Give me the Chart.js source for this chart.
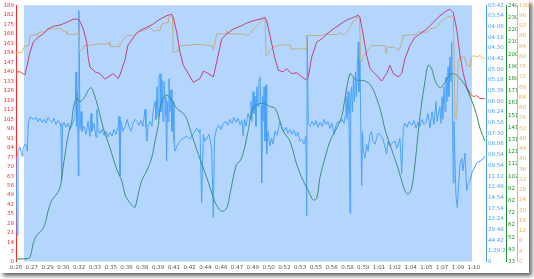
<!DOCTYPE html>
<html>
<head>
<meta charset="utf-8">
<script src="https://cdn.jsdelivr.net/npm/chart.js@4.4.0/dist/chart.umd.min.js"></script>
<style>
  html, body { margin: 0; padding: 0; background: #fff; }
  #frame { position: absolute; left: 0; top: 0; width: 529px; height: 273px; background: #fff; box-shadow: 3px 3px 4px rgba(0,0,0,0.6); }
  canvas { display: block; }
</style>
</head>
<body>
<div id="frame"><canvas id="chart" width="529" height="273"></canvas></div>
<script>
// x ticks: one label every ~1.52 min
const xLabels = ["0:26","0:27","0:29","0:30","0:32","0:33","0:35","0:36","0:38","0:39","0:41","0:42","0:44","0:46","0:47","0:49","0:50","0:52","0:53","0:55","0:56","0:58","0:59","1:01","1:02","1:04","1:05","1:07","1:09","1:10"];
const xTickStep = 1.517;
const xMax = 45.17;

// axis labels, bottom to top
const hrStep = 7, hrMax = 189;
const paceLabels = ["0","1:29:24","44:42","29:48","22:24","17:54","14:54","12:48","11:12","09:54","08:54","08:06","07:30","06:56","06:24","06:00","05:36","05:18","05:00","04:42","04:30","04:18","04:06","03:54","03:42"];
const paceStep = 0.6706; // km/h between pace labels
const greenLabels = ["33","43","52","62","72","82","92","102","112","121","131","141","151","161","171","180","190","200","210","220","230","240"];
const greenMin = 33, greenMax = 240;
const pctStep = 4, pctMax = 100;

// selected range (minutes)
const selection = [0.77, 43.82];

// [minutes, bpm]
const heartRate = [[0,139.9],[0.38,139.9],[0.86,137.7],[1.35,154.5],[1.66,161.8],[2.11,165.4],[2.59,167.8],[3.08,171.5],[3.56,173.4],[4.23,174.4],[4.87,176.4],[5.51,178.8],[5.99,178.8],[6.15,176.9],[6.47,171.5],[6.79,161.8],[6.95,149.6],[7.11,143.5],[7.59,139.9],[8.07,138.6],[8.55,134.5],[8.87,136.2],[9.35,138.6],[9.83,135.0],[9.99,137.7],[10.47,148.6],[10.76,159.6],[11.44,166.9],[11.92,170.5],[12.56,172.7],[13.17,175.1],[13.84,178.8],[14.48,181.3],[14.96,182.4],[15.12,180.0],[15.44,169.1],[15.76,154.5],[16.08,144.7],[16.56,138.6],[17.04,132.2],[17.68,135.0],[18.0,140.4],[18.33,139.3],[18.96,136.2],[19.29,147.2],[19.77,164.2],[20.25,167.8],[20.88,171.5],[21.53,173.4],[22.17,175.9],[22.8,177.6],[23.45,178.8],[23.93,180.0],[24.09,177.6],[24.41,166.7],[24.89,149.6],[25.21,141.1],[25.69,139.9],[26.01,142.3],[26.49,138.6],[26.98,139.3],[27.46,136.2],[27.94,133.8],[28.09,136.2],[28.42,150.8],[28.9,161.8],[29.38,164.2],[29.86,167.8],[30.49,171.5],[31.14,174.9],[31.78,178.2],[32.41,180.0],[32.9,181.7],[33.06,180.0],[33.38,166.7],[33.7,152.0],[34.02,142.3],[34.34,139.9],[34.66,137.4],[35.14,133.1],[35.62,138.6],[35.94,144.7],[36.26,138.6],[36.74,136.2],[37.07,138.6],[37.38,149.6],[37.86,159.4],[38.34,165.4],[38.82,167.8],[39.47,171.5],[40.1,176.4],[40.74,181.3],[41.39,184.9],[41.71,186.1],[42.02,183.7],[42.35,171.5],[42.67,152.0],[42.99,138.6],[43.31,128.9],[43.63,124.0],[43.95,121.6],[44.27,122.3],[44.59,120.4],[45.07,120.1]];

// [minutes, %]
const cadence = [[0,81.3],[0.58,81.7],[0.77,83.7],[1.06,84.3],[1.25,84.4],[1.35,88.3],[2.11,88.6],[2.21,89.5],[2.88,89.6],[2.98,90.7],[4.32,91.0],[4.42,90.1],[4.81,89.8],[4.9,88.7],[5.86,88.6],[5.99,89.5],[6.05,90.2],[6.1,82.1],[6.44,83.0],[6.53,84.3],[7.11,84.4],[7.78,84.8],[8.07,84.9],[8.84,84.9],[8.94,85.6],[9.03,84.3],[9.23,83.9],[9.9,83.9],[9.99,84.9],[10.64,88.2],[11.44,88.3],[11.6,89.5],[12.2,90.0],[12.88,91.4],[13.17,90.1],[13.84,90.1],[14.0,92.7],[14.61,93.3],[14.64,95.2],[14.96,95.9],[15.04,95.6],[15.12,81.7],[15.57,82.1],[15.6,83.6],[15.76,84.3],[16.72,84.4],[17.01,84.7],[17.68,84.7],[18.64,84.3],[18.93,84.0],[18.96,82.4],[19.29,88.8],[20.18,88.9],[20.25,90.1],[20.37,88.8],[22.1,88.8],[22.2,88.2],[22.49,88.8],[22.8,90.7],[23.13,92.0],[23.61,94.0],[23.93,95.2],[24.03,80.4],[24.22,81.0],[24.41,82.4],[24.73,83.7],[25.18,84.3],[25.37,84.5],[26.33,84.5],[26.43,83.0],[27.92,83.0],[27.99,88.2],[29.21,88.2],[29.79,88.6],[31.04,88.6],[31.14,89.5],[31.42,88.6],[31.71,88.8],[32.1,91.4],[32.41,94.0],[32.67,94.0],[32.9,95.9],[33.01,95.6],[33.13,78.5],[33.25,77.9],[33.38,79.8],[33.7,81.7],[34.02,83.6],[34.12,84.3],[35.46,84.3],[35.56,81.1],[35.65,83.6],[36.42,83.6],[36.74,82.4],[37.0,84.4],[37.22,88.2],[38.44,88.6],[38.63,89.5],[39.5,89.5],[39.79,90.7],[40.46,91.4],[40.74,93.3],[41.39,95.2],[41.87,95.9],[42.04,94.9],[42.19,56.0],[42.35,55.7],[42.5,77.9],[42.67,79.8],[43.15,79.8],[43.31,76.6],[43.63,75.9],[43.78,79.8],[43.95,80.4],[44.27,79.8],[44.59,80.4],[44.88,79.4],[45.07,79.0]];

// [minutes, value on green axis]
const greenSeries = [[0,35.0],[1.06,35.4],[1.35,36.6],[1.66,47.6],[1.99,54.2],[2.47,58.2],[2.79,63.6],[3.1,74.2],[3.43,82.2],[3.91,87.5],[4.23,92.8],[4.39,100.8],[4.71,119.5],[5.03,135.5],[5.35,146.2],[5.51,156.8],[5.83,164.8],[6.15,162.2],[6.63,166.2],[6.95,171.5],[7.21,173.4],[7.43,170.2],[7.91,156.8],[8.39,140.8],[9.03,124.8],[9.68,107.5],[10.16,98.2],[10.47,87.5],[10.79,82.2],[11.27,77.4],[11.44,76.8],[11.75,87.5],[12.08,98.2],[12.56,106.2],[13.04,116.8],[13.36,130.2],[13.68,143.5],[13.84,156.8],[14.16,164.8],[14.48,167.5],[14.96,163.5],[15.44,156.8],[16.08,152.6],[16.43,147.8],[16.72,139.8],[17.2,127.8],[17.68,115.8],[18.33,100.8],[18.96,84.8],[19.29,78.2],[19.77,73.6],[20.25,76.3],[20.56,87.5],[20.88,100.8],[21.21,111.5],[21.53,114.2],[21.84,120.8],[22.17,132.8],[22.39,142.2],[22.65,154.2],[23.13,159.5],[23.77,160.8],[24.41,158.2],[24.89,156.8],[25.37,146.2],[25.69,138.2],[26.33,130.2],[26.98,111.5],[27.61,98.2],[28.09,90.2],[28.57,82.7],[28.9,84.3],[29.21,100.8],[29.53,111.5],[30.18,130.2],[30.82,140.8],[31.3,150.2],[31.62,164.8],[32.1,184.8],[32.41,182.2],[32.74,179.5],[33.06,179.5],[33.7,178.2],[34.18,174.2],[34.66,164.8],[35.14,151.5],[35.46,139.8],[35.94,127.5],[36.59,111.5],[37.07,98.2],[37.38,90.2],[37.7,87.5],[38.03,92.8],[38.34,111.5],[38.57,130.2],[38.82,150.2],[39.3,178.2],[39.62,191.5],[39.95,188.8],[40.27,179.5],[40.74,173.4],[41.06,175.5],[41.54,182.2],[42.02,184.8],[42.67,180.8],[43.31,172.8],[43.95,159.5],[44.27,151.5],[44.59,140.8],[45.07,130.2]];

// [minutes, km/h]
const speed = [[0,6.62],[0.10,1.65],[0.19,6.94],[0.38,7.18],[0.58,6.62],[0.67,7.12],[0.86,7.37],[1.01,7.25],[1.09,6.94],[1.18,8.61],[1.35,9.11],[1.54,8.99],[1.73,8.93],[1.92,9.05],[2.11,8.80],[2.31,8.99],[2.50,8.74],[2.69,8.93],[2.88,8.68],[3.08,9.05],[3.27,8.86],[3.46,8.74],[3.65,8.99],[3.84,8.61],[4.04,8.86],[4.23,8.68],[4.32,8.49],[4.39,5.07],[4.47,8.49],[4.61,8.74],[4.81,8.43],[5.00,8.68],[5.19,8.30],[5.38,8.55],[5.57,8.93],[5.67,9.11],[5.77,11.91],[5.84,8.49],[5.91,10.67],[5.99,5.38],[6.05,15.77],[6.15,8.30],[6.25,9.42],[6.34,8.18],[6.53,8.49],[6.73,7.99],[6.92,8.80],[7.11,7.87],[7.21,9.30],[7.30,8.18],[7.50,8.68],[7.69,7.81],[7.78,9.55],[7.88,8.30],[8.07,8.05],[8.26,8.30],[8.46,7.93],[8.65,8.18],[8.84,7.81],[9.03,8.12],[9.23,7.87],[9.42,8.30],[9.61,7.99],[9.80,8.43],[9.90,9.11],[9.99,5.38],[10.09,8.80],[10.28,8.18],[10.47,8.43],[10.67,8.93],[10.86,8.49],[11.05,8.18],[11.24,8.68],[11.44,8.93],[11.63,8.80],[11.82,8.55],[12.01,8.86],[12.20,8.49],[12.40,9.55],[12.49,8.43],[12.59,7.56],[12.69,8.55],[12.88,8.80],[13.07,8.49],[13.17,9.42],[13.36,10.05],[13.45,8.93],[13.55,10.98],[13.65,9.11],[13.74,11.60],[13.84,11.79],[13.93,9.42],[14.03,11.41],[14.13,8.80],[14.22,11.29],[14.32,10.36],[14.41,9.11],[14.48,6.31],[14.56,10.05],[14.61,8.80],[14.70,11.48],[14.80,9.42],[14.90,10.79],[14.99,8.18],[15.09,10.05],[15.18,7.56],[15.28,6.94],[15.47,7.25],[15.76,7.56],[16.05,7.74],[16.40,7.87],[16.72,7.68],[17.01,7.99],[17.37,8.37],[17.59,8.12],[17.68,8.30],[17.84,3.70],[18.00,7.99],[18.16,7.56],[18.36,7.74],[18.55,7.99],[18.81,7.12],[18.96,2.77],[19.08,7.74],[19.29,8.37],[19.51,8.55],[19.70,8.30],[19.92,8.68],[20.18,8.80],[20.37,8.55],[20.56,8.93],[20.76,8.68],[20.95,9.05],[21.14,8.74],[21.33,8.99],[21.53,8.61],[21.72,8.86],[21.84,7.87],[21.96,8.93],[22.10,8.49],[22.30,9.30],[22.49,8.93],[22.58,10.05],[22.68,8.80],[22.78,10.67],[22.87,9.30],[22.97,10.36],[23.06,8.49],[23.16,10.98],[23.26,9.73],[23.35,11.29],[23.45,11.60],[23.55,9.73],[23.61,4.94],[23.69,10.36],[23.74,8.80],[23.84,10.98],[23.93,7.56],[24.03,11.10],[24.09,6.75],[24.22,8.18],[24.41,7.25],[24.57,7.74],[24.70,7.37],[24.89,8.18],[25.08,7.93],[25.27,8.49],[25.37,8.80],[25.56,8.37],[25.75,8.18],[25.95,8.43],[26.14,8.05],[26.33,8.30],[26.52,7.99],[26.71,8.24],[26.91,7.87],[27.10,8.12],[27.29,7.56],[27.48,7.68],[27.68,7.37],[27.87,7.87],[27.94,2.89],[27.99,14.21],[28.09,8.61],[28.25,8.49],[28.45,8.80],[28.64,8.55],[28.83,8.86],[29.02,8.43],[29.21,8.74],[29.41,8.49],[29.60,8.93],[29.79,8.61],[29.98,8.80],[30.18,8.37],[30.37,8.68],[30.56,7.99],[30.75,8.55],[30.95,8.80],[31.14,8.74],[31.33,8.93],[31.52,8.68],[31.62,9.11],[31.71,10.36],[31.81,8.93],[31.91,10.67],[32.00,9.30],[32.10,3.02],[32.16,10.05],[32.24,10.98],[32.34,9.42],[32.43,11.60],[32.53,10.05],[32.63,11.91],[32.72,10.36],[32.82,12.53],[32.90,13.78],[32.96,10.67],[33.06,12.72],[33.13,8.80],[33.22,4.76],[33.30,8.18],[33.38,6.94],[33.54,6.50],[33.70,7.37],[33.83,6.94],[34.02,7.99],[34.18,8.18],[34.31,7.56],[34.50,7.37],[34.66,7.74],[34.79,8.05],[34.98,7.99],[35.27,7.68],[35.62,6.75],[35.75,7.56],[35.94,7.25],[36.13,7.43],[36.42,7.56],[36.61,7.12],[36.90,7.74],[37.07,5.50],[37.22,8.37],[37.38,8.68],[37.58,8.43],[37.77,8.80],[38.06,8.55],[38.25,8.86],[38.44,8.37],[38.63,8.74],[38.82,8.49],[39.02,8.93],[39.21,8.61],[39.40,8.74],[39.59,9.30],[39.79,8.37],[39.98,9.42],[40.17,8.61],[40.36,10.05],[40.46,8.80],[40.55,9.11],[40.74,9.73],[40.84,8.68],[40.94,10.36],[41.03,8.93],[41.13,10.98],[41.23,9.42],[41.32,11.60],[41.42,10.05],[41.52,12.22],[41.61,10.36],[41.71,12.84],[41.80,11.29],[41.87,13.78],[41.95,10.05],[42.02,4.94],[42.09,8.80],[42.19,6.31],[42.28,4.14],[42.41,3.39],[42.53,4.76],[42.67,6.13],[42.83,6.50],[42.96,5.69],[43.15,6.81],[43.31,4.45],[43.46,4.88],[43.63,5.07],[43.82,5.57],[44.01,5.82],[44.27,6.19],[44.59,6.31],[44.88,6.44],[45.07,6.62]];

const tickFont = { family: "DejaVu Sans", size: 5.5 };

function fixedTicks(step, count, start) {
  return function (scale) {
    const ticks = [];
    for (let i = 0; i < count; i++) ticks.push({ value: (start || 0) + i * step });
    scale.ticks = ticks;
  };
}

function bandColor(inside, outside) {
  return (ctx) => {
    const a = ctx.p0.parsed.x, b = ctx.p1.parsed.x;
    return a >= selection[0] && b <= selection[1] ? inside : outside;
  };
}

const selectionBand = {
  id: "selectionBand",
  beforeDatasetsDraw(chart) {
    const { ctx, chartArea, scales } = chart;
    const x0 = scales.x.getPixelForValue(selection[0]);
    const x1 = scales.x.getPixelForValue(selection[1]);
    ctx.save();
    ctx.fillStyle = "#b4d6fc";
    ctx.fillRect(x0, chartArea.top, x1 - x0, chartArea.bottom - chartArea.top);
    ctx.restore();
  },
};

function lineSet(data, axis, inside, outside, order, tension) {
  return {
    data: data.map((p) => ({ x: p[0], y: p[1] })),
    yAxisID: axis,
    borderColor: outside,
    borderWidth: 1,
    pointRadius: 0,
    tension: tension || 0,
    order: order,
    segment: { borderColor: bandColor(inside, outside) },
  };
}

function yAxis(position, color, width, min, max, build, labels) {
  return {
    type: "linear",
    position: position,
    min: min,
    max: max,
    afterBuildTicks: build,
    afterFit: (scale) => { scale.width = width; },
    grid: { display: false, drawTicks: false },
    border: { display: true, color: color, width: 1 },
    ticks: {
      color: color,
      font: tickFont,
      padding: 2,
      autoSkip: false,
      callback: (v, i) => labels[i],
    },
  };
}

const hrLabels = [];
for (let v = 0; v <= hrMax; v += hrStep) hrLabels.push(String(v));
const pctLabels = [];
for (let v = 0; v <= pctMax; v += pctStep) pctLabels.push(String(v));

new Chart(document.getElementById("chart"), {
  type: "line",
  data: {
    datasets: [
      lineSet(heartRate, "yHr", "#c4407a", "#ff4545", 1),
      lineSet(cadence, "yPct", "#bfae86", "#ffb440", 2),
      lineSet(greenSeries, "yGreen", "#3a8f7c", "#2f8a45", 3, 0.4),
      lineSet(speed, "yPace", "#4aa2fb", "#4aa0ff", 4),
    ],
  },
  options: {
    responsive: false,
    animation: false,
    events: [],
    layout: { padding: { top: 3, left: 0, right: 0, bottom: 0 } },
    plugins: { legend: { display: false }, tooltip: { enabled: false } },
    scales: {
      x: {
        type: "linear",
        min: 0,
        max: xMax,
        afterBuildTicks: fixedTicks(xTickStep, xLabels.length),
        afterFit: (scale) => { scale.height = 11.5; },
        grid: { display: false, drawTicks: false },
        border: { display: false },
        ticks: {
          color: "#555",
          font: tickFont,
          padding: 3,
          maxRotation: 0,
          autoSkip: false,
          callback: (v, i) => xLabels[i],
        },
      },
      yHr: yAxis("left", "#ff2a2a", 16, 0, hrMax, fixedTicks(hrStep, hrLabels.length), hrLabels),
      yPace: yAxis("right", "#4a9ff5", 20, 0, paceStep * 24, fixedTicks(paceStep, paceLabels.length), paceLabels),
      yGreen: yAxis("right", "#1f8a2a", 11, greenMin, greenMax, fixedTicks((greenMax - greenMin) / 21, greenLabels.length, greenMin), greenLabels),
      yPct: yAxis("right", "#ffb030", 12, 0, pctMax, fixedTicks(pctStep, pctLabels.length), pctLabels),
    },
  },
  plugins: [selectionBand],
});
</script>
</body>
</html>
